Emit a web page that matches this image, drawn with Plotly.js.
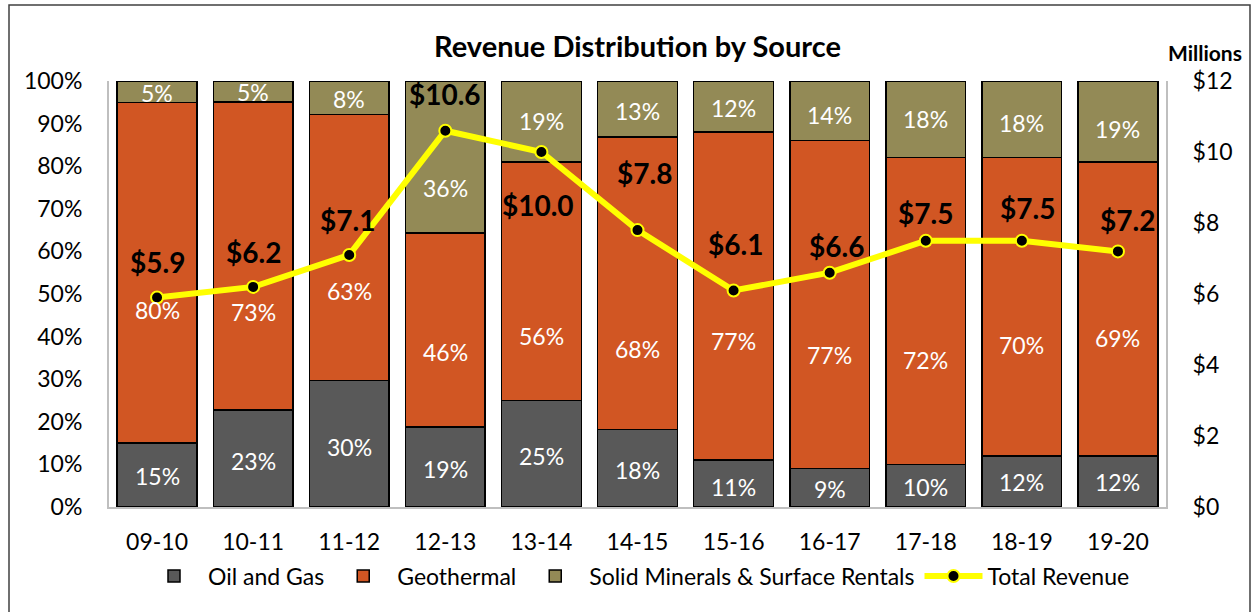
<!DOCTYPE html>
<html>
<head>
<meta charset="utf-8">
<script src="https://cdn.plot.ly/plotly-3.0.1.min.js"></script>
<style>
  html, body { margin: 0; padding: 0; background: #fff; }
  #chart { width: 1257px; height: 612px; }
</style>
</head>
<body>
<div id="chart"></div>
<script>
// ---- data ----
const categories = ['09-10', '10-11', '11-12', '12-13', '13-14', '14-15', '15-16', '16-17', '17-18', '18-19', '19-20'];
const oilGas = [15, 23, 30, 19, 25, 18, 11, 9, 10, 12, 12];
const geothermal = [80, 73, 63, 46, 56, 68, 77, 77, 72, 70, 69];
const solidMinerals = [5, 5, 8, 36, 19, 13, 12, 14, 18, 18, 19];
const totalRevenue = [5.9, 6.2, 7.1, 10.6, 10.0, 7.8, 6.1, 6.6, 7.5, 7.5, 7.2];

// ---- label placement (pixel nudges, style only) ----
const oilShift = [-1, -2, -3, -2, -2, -2, -3, -1, -1, -1, -1];
const geoShift = [-37, -56, -43, -22, -55, -66, -45, -50, -49, -38, -29];
const solidShift = [-1, 0, -1, -31, 0, -2, -1, -4, 0, -4, -8];
const revDy = [36, 35, 35, 37, -53, 57, 46, 27, 28, 33, 31];
const revDx = [0, 0, -2, 0, -3, 7, 2, 7, 0, 6, 10];

const FONT = 'Lato, "Open Sans", sans-serif';
const cOil = '#595959', cGeo = '#D15623', cSolid = '#938A56';

const barLine = { color: '#000000', width: 1.5 };
const traces = [
  { type: 'bar', name: 'Oil and Gas', x: categories, y: oilGas,
    marker: { color: cOil, line: barLine }, hoverinfo: 'skip' },
  { type: 'bar', name: 'Geothermal', x: categories, y: geothermal,
    marker: { color: cGeo, line: barLine }, hoverinfo: 'skip' },
  { type: 'bar', name: 'Solid Minerals & Surface Rentals', x: categories, y: solidMinerals,
    marker: { color: cSolid, line: barLine }, hoverinfo: 'skip' },
  { type: 'scatter', mode: 'lines+markers', name: 'Total Revenue', x: categories, y: totalRevenue,
    yaxis: 'y2', line: { color: '#FFFF00', width: 6 },
    marker: { color: '#000000', size: 12, line: { color: '#FFFF00', width: 2 } }, hoverinfo: 'skip' }
];

const annotations = [];
const labFont = { family: FONT, size: 23, color: '#FFFFFF' };
categories.forEach((c, i) => {
  const tot = oilGas[i] + geothermal[i] + solidMinerals[i];
  const o = oilGas[i] / tot * 100, g = geothermal[i] / tot * 100, s = solidMinerals[i] / tot * 100;
  annotations.push({ x: c, y: o / 2, xref: 'x', yref: 'y', text: oilGas[i] + '%', showarrow: false,
    font: labFont, yshift: oilShift[i] });
  annotations.push({ x: c, y: o + g / 2, xref: 'x', yref: 'y', text: geothermal[i] + '%', showarrow: false,
    font: labFont, yshift: geoShift[i] });
  annotations.push({ x: c, y: o + g + s / 2, xref: 'x', yref: 'y', text: solidMinerals[i] + '%', showarrow: false,
    font: labFont, yshift: solidShift[i] });
  annotations.push({ x: c, y: totalRevenue[i], xref: 'x', yref: 'y2', text: '<b>$' + totalRevenue[i].toFixed(1) + '</b>',
    showarrow: false, font: { family: FONT, size: 28, color: '#000000' }, yshift: revDy[i], xshift: revDx[i] });
});
annotations.push({ x: (1205 - 109) / 1057, y: (507 - 52) / 426, xref: 'paper', yref: 'paper',
  xanchor: 'center', yanchor: 'middle',
  text: '<b>Millions</b>', showarrow: false, font: { family: FONT, size: 21, color: '#000' } });

const layout = {
  width: 1257, height: 612,
  margin: { l: 109, r: 91, t: 81, b: 105 },
  paper_bgcolor: '#FFFFFF', plot_bgcolor: '#FFFFFF',
  barmode: 'stack', barnorm: 'percent', bargap: 0.17,
  font: { family: FONT, size: 23, color: '#000' },
  title: { text: '<b>Revenue Distribution by Source</b>', font: { family: FONT, size: 29, color: '#000' },
    x: 0.5, xref: 'paper', xanchor: 'center', y: 1 - 47 / 612, yref: 'container', yanchor: 'middle' },
  xaxis: { type: 'category', range: [-0.5, 10.5], autorange: false, showgrid: false, zeroline: false,
    showline: true, linecolor: '#BFBFBF', linewidth: 2,
    ticks: '', tickfont: { family: FONT, size: 23 }, ticklabelstandoff: 13, fixedrange: true },
  yaxis: { range: [0, 100], dtick: 10, ticksuffix: '%', showgrid: false, zeroline: false, showline: true,
    linecolor: '#BFBFBF', linewidth: 2, ticks: '', tickfont: { family: FONT, size: 23 }, ticklabelstandoff: 20 },
  yaxis2: { overlaying: 'y', side: 'right', range: [0, 12], dtick: 2, tickprefix: '$', showgrid: false, zeroline: false,
    showline: true, linecolor: '#BFBFBF', linewidth: 2, ticks: '', tickfont: { family: FONT, size: 23 }, ticklabelstandoff: 20 },
  legend: { orientation: 'h', x: 0.5, xanchor: 'center', y: (507 - 576) / 426, yanchor: 'middle',
    font: { family: FONT, size: 23 }, traceorder: 'normal', itemwidth: 58 },
  showlegend: true,
  annotations: annotations,
  shapes: [{ type: 'rect', xref: 'paper', yref: 'paper',
    x0: (9 - 109) / 1057, x1: (1250 - 109) / 1057, y0: (507 - 640) / 426, y1: (507 - 5) / 426,
    line: { color: '#404040', width: 1.5 }, fillcolor: 'rgba(0,0,0,0)' }]
};

Plotly.newPlot('chart', traces, layout, { displayModeBar: false, staticPlot: true });
</script>
</body>
</html>
